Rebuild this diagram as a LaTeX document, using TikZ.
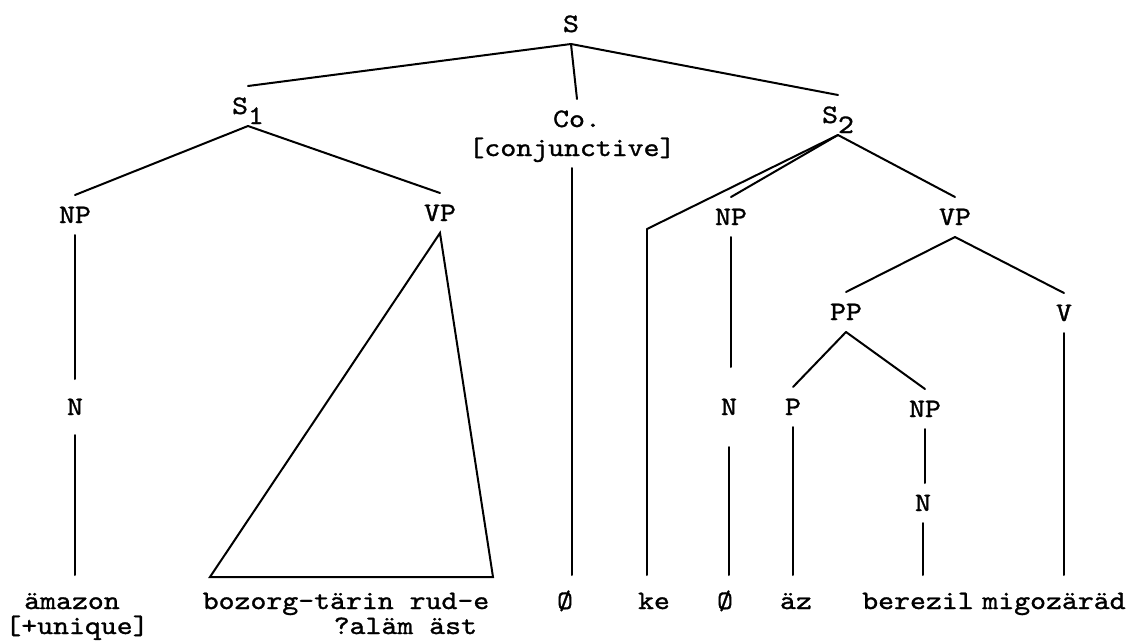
\documentclass[tikz,border=0pt]{standalone}
\usepackage{fontspec}
\newfontfamily\typew[FakeStretch=1.14,FakeBold=1.2]{lmmono10-regular.otf}

\begin{document}
\begin{tikzpicture}[x=0.5pt,y=-0.5pt,line width=1pt,line cap=round,
  lbl/.style={font=\typew\fontsize{13.3}{15}\selectfont,inner sep=0pt,outer sep=6pt,text height=8pt,text depth=0pt},
  leaf/.style={lbl,outer sep=9pt}]
\useasboundingbox (0,0) rectangle (1137,643);

% top level
\node[lbl] (s) at (571,24) {S};
\node[lbl] (s1) at (248,106) {S\raisebox{-5pt}{1}};
\node[lbl] (co) at (577,119) {Co.};
\node[lbl] (conj) at (572,148) {[conjunctive]};
\node[lbl] (s2) at (838,115) {S\raisebox{-5pt}{2}};
\draw (s.south) -- (s1.north);
\draw (s.south) -- (co.north);
\draw (s.south) -- (s2.north);

% first conjunct
\node[lbl] (np1) at (75,215) {NP};
\node[lbl] (vp1) at (440,213) {VP};
\node[lbl,outer sep=10pt] (n1) at (75,407) {N};
\draw (s1.south) -- (np1.north);
\draw (s1.south) -- (vp1.north);
\draw (np1.south) -- (np1.south |- n1.north);
\coordinate (tl) at (210,577);
\coordinate (tr) at (493,577);
\draw (vp1.south) -- (tl) -- (tr) -- cycle;

% second conjunct
\coordinate (kc) at (647,229);
\node[lbl] (np2) at (731,217) {NP};
\node[lbl] (vp2) at (955,217) {VP};
\node[lbl,outer sep=16pt] (n2) at (729,407) {N};
\node[lbl] (pp) at (846,312) {PP};
\node[lbl] (v) at (1064,313) {V};
\node[lbl] (p) at (793,407) {P};
\node[lbl] (np3) at (925,409) {NP};
\node[lbl] (n3) at (923,503) {N};
\draw (s2.south) -- (kc);
\draw (s2.south) -- (np2.north);
\draw (s2.south) -- (vp2.north);
\draw (np2.south) -- (np2.south |- n2.north);
\draw (vp2.south) -- (pp.north);
\draw (vp2.south) -- (v.north);
\draw (pp.south) -- (p.north);
\draw (pp.south) -- (np3.north);
\draw (np3.south) -- (np3.south |- n3.north);

% words
\node[leaf] (amazon) at (72,601) {ämazon};
\node[lbl] (uniq) at (77,626) {[+unique]};
\node[leaf] (bozorg) at (346,601) {bozorg-tärin rud-e};
\node[lbl,anchor=east] (alam) at (489,626) {?aläm äst};
\node[leaf] (zero1) at (565,601) {Ø};
\node[leaf] (ke) at (654,601) {ke};
\node[leaf] (zero2) at (725,601) {Ø};
\node[leaf] (az) at (796,601) {äz};
\node[leaf] (berezil) at (918,601) {berezil};
\node[leaf] (verb) at (1054,601) {migozäräd};
\draw (n1.south) -- (n1.south |- amazon.north);
\draw (conj.south) -- (conj.south |- zero1.north);
\draw (kc) -- (kc |- ke.north);
\draw (n2.south) -- (n2.south |- zero2.north);
\draw (p.south) -- (p.south |- az.north);
\draw (n3.south) -- (n3.south |- berezil.north);
\draw (v.south) -- (v.south |- verb.north);
\end{tikzpicture}
\end{document}
